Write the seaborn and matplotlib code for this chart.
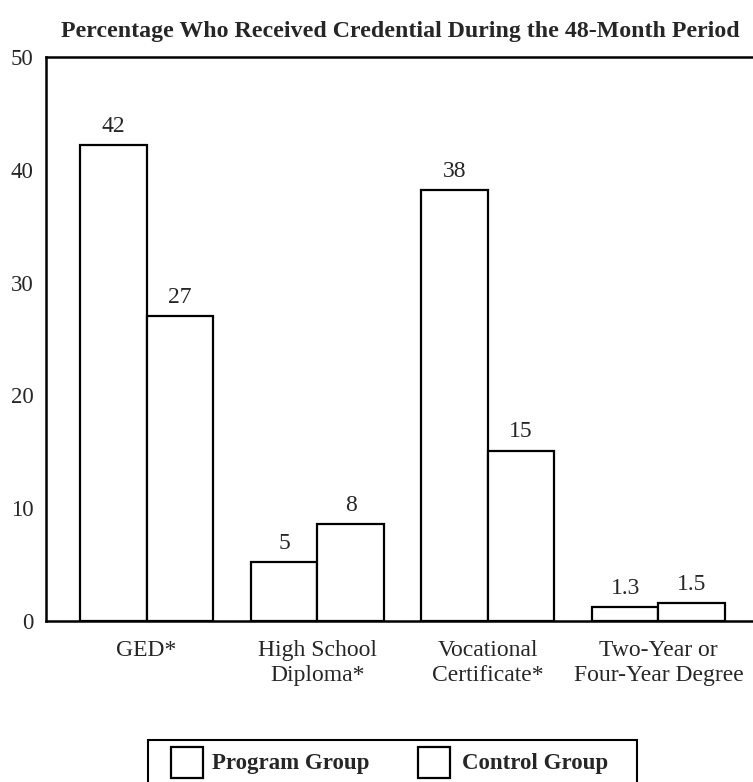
import matplotlib
matplotlib.use("Agg")
import matplotlib.pyplot as plt
import seaborn as sns
import pandas as pd
from matplotlib.patches import Rectangle

categories = ["GED*", "High School\nDiploma*", "Vocational\nCertificate*", "Two-Year or\nFour-Year Degree"]
groups = ["Program Group", "Control Group"]
program = [42.2, 5.2, 38.2, 1.2]
control = [27, 8.6, 15.1, 1.6]
program_labels = ["42", "5", "38", "1.3"]
control_labels = ["27", "8", "15", "1.5"]
yticks = [0, 10, 20, 30, 40, 50]
title = "Percentage Who Received Credential During the 48-Month Period"

df = pd.DataFrame({
    "cat": categories * 2,
    "grp": [groups[0]] * 4 + [groups[1]] * 4,
    "val": program + control,
})

sns.set_theme(style="white")
plt.rcParams["font.family"] = ["Liberation Serif", "DejaVu Serif"]

W, H = 753, 782
fig = plt.figure(figsize=(W / 100, H / 100), dpi=100)
ax = fig.add_axes([46 / W, 1 - 621 / H, (753 - 46) / W, (621 - 57) / H])

sns.barplot(data=df, x="cat", y="val", hue="grp", order=categories, hue_order=groups,
            palette=["white", "white"], edgecolor="black", linewidth=1.6,
            width=0.78, legend=False, ax=ax, errorbar=None)

for cont, labs in zip(ax.containers, [program_labels, control_labels]):
    ax.bar_label(cont, labels=labs, padding=6, fontsize=17)

ax.set_ylim(0, 50)
ax.set_xlim(-0.59, 3.554)
ax.set_yticks(yticks)
ax.set_yticklabels([str(t) for t in yticks], fontsize=16.5)
ax.tick_params(axis="y", length=0, pad=9)
ax.tick_params(axis="x", length=0, pad=14)
for lab in ax.get_xticklabels():
    lab.set_fontsize(17)
    lab.set_linespacing(1.2)
ax.set_xlabel("")
ax.set_ylabel("")
for s in ["left", "bottom", "top"]:
    ax.spines[s].set_visible(True)
    ax.spines[s].set_color("black")
    ax.spines[s].set_linewidth(1.8)
ax.spines["right"].set_visible(False)

fig.text(400 / W, 1 - 32 / H, title, ha="center", va="center",
         fontsize=17.2, fontweight="bold")

# legend box
fig.patches.append(Rectangle((148 / W, -0.02), (637 - 148) / W, (782 - 740) / H + 0.02,
                             transform=fig.transFigure, fill=False, edgecolor="black",
                             linewidth=1.5, clip_on=False))
for sx, tx, g in [(171, 212, groups[0]), (418, 462, groups[1])]:
    fig.patches.append(Rectangle((sx / W, 1 - 778 / H), 32 / W, 31 / H,
                                 transform=fig.transFigure, fill=False,
                                 edgecolor="black", linewidth=1.6))
    fig.text(tx / W, 1 - 763 / H, g, ha="left", va="center", fontsize=16.5,
             fontweight="bold")

fig.savefig("out.png", dpi=100)
